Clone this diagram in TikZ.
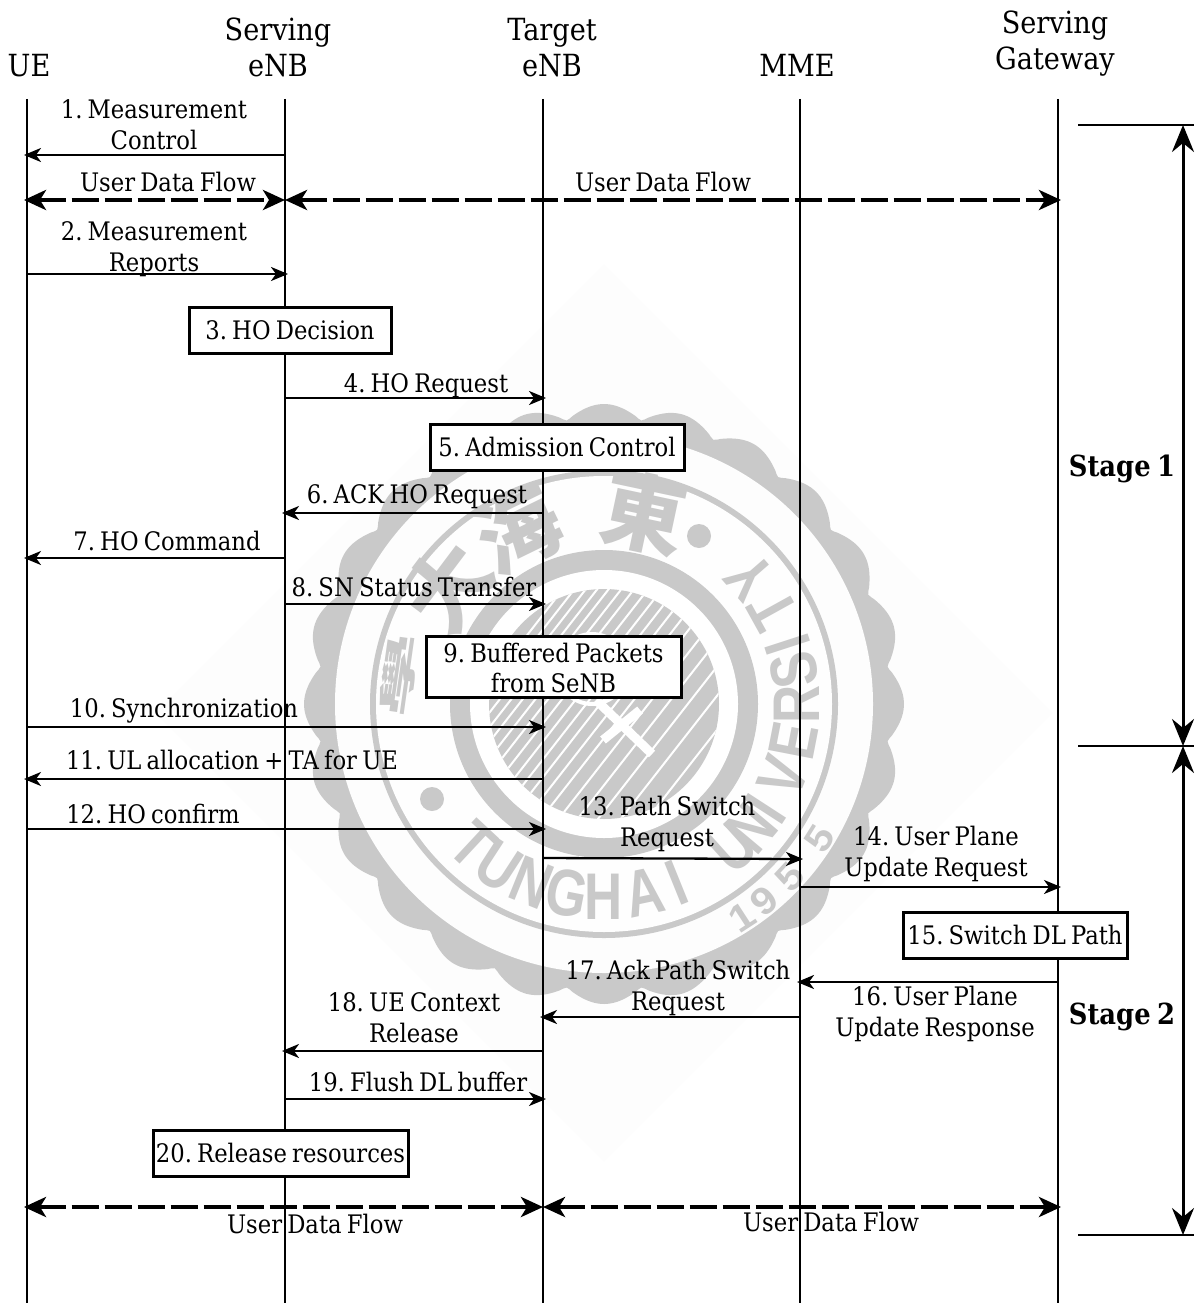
\documentclass[tikz,border=0pt]{standalone}
\usepackage{fontspec}
\usepackage{graphicx}
\setmainfont{DejaVu Serif}[FakeStretch=0.89,WordSpace=0.72]
\newfontfamily\wmfont{Liberation Sans}[FakeStretch=0.8]
\newfontfamily\wmnumfont{Liberation Sans}[FakeStretch=1.1]
\newfontfamily\cjkfont{Noto Sans CJK TC}
\usetikzlibrary{arrows.meta,calc}
\definecolor{wmgray}{gray}{0.79}
\newcommand\Q{\rule[-6pt]{0pt}{30pt}}
\newcommand\QH{\rule[-7pt]{0pt}{34pt}}
\newcommand\QS{\rule[-6.4pt]{0pt}{34.4pt}}
\newcommand\QB{\rule[-4pt]{0pt}{30pt}}
\tikzset{
  life/.style={line width=2.8pt,black},
  msg/.style={line width=2.3pt,-{Stealth[length=17pt,width=14pt,inset=5pt]},shorten >=-3pt},
  flow/.style={line width=4pt,dash pattern=on 27pt off 6pt,{Stealth[length=22pt,width=20pt,inset=6pt]}-{Stealth[length=22pt,width=20pt,inset=6pt]}},
  stagearrow/.style={line width=3pt,{Stealth[length=27pt,width=22pt,inset=9pt]}-{Stealth[length=27pt,width=22pt,inset=9pt]}},
  rule/.style={line width=2.2pt},
  lbl/.style={font=\frenchspacing\fontsize{25.5}{30.5}\selectfont,align=center,inner sep=0pt,text=black},
  head/.style={font=\frenchspacing\fontsize{30.5}{36}\selectfont,align=center,inner sep=0pt,text=black},
  actbox/.style={draw,line width=3pt,fill=white,font=\frenchspacing\fontsize{25.5}{30.5}\selectfont,align=center,inner sep=0pt,anchor=center},
  stagelbl/.style={font=\frenchspacing\fontsize{29}{34}\selectfont\bfseries,inner sep=0pt},
  wmlet/.style={font=\wmfont\bfseries\fontsize{66}{70}\selectfont,text=wmgray,inner sep=0pt},
  wmcjk/.style={font=\cjkfont\bfseries\fontsize{84}{86}\selectfont,text=wmgray,inner sep=0pt},
  wmnum/.style={font=\wmnumfont\bfseries\fontsize{38}{40}\selectfont,text=wmgray,inner sep=0pt},
}
\begin{document}
\begin{tikzpicture}[x=1pt,y=-1pt]
\useasboundingbox (0,0) rectangle (1196,1303);
% ---------- watermark ----------
\coordinate (seal) at (604,704);
\fill[gray!1.5] (604,264) -- (1053,713) -- (604,1162) -- (155,713) -- cycle;
\fill[wmgray,smooth,samples=289,domain=0:360,shift={(seal)}]
  plot ({(286+14*abs(cos(12*\x)))*cos(\x)},{(286+14*abs(cos(12*\x)))*sin(\x)}) -- cycle;
\fill[gray!1.5] (seal) circle[radius=269];
\fill[wmgray] (seal) circle[radius=234];
\fill[gray!1] (seal) circle[radius=228];
\fill[wmgray] (seal) circle[radius=154];
\fill[white] (seal) circle[radius=134];
\fill[wmgray] (seal) circle[radius=115];
\begin{scope}
  \clip (seal) circle[radius=115];
  \foreach \d in {-105,-84,-66,-50,-35,-21,-9,3,14,25,36,47,57,67,76,85,94,103}
    \draw[white,line width=2pt] ($(seal)+(52:170pt)+(142:\d pt)$) -- ($(seal)+(232:170pt)+(142:\d pt)$);
  \draw[white,line width=4pt] (592,669) circle[radius=35];
\end{scope}
\draw[white,line width=9pt,line cap=butt] (596,700) -- (652,754);
\draw[white,line width=9pt,line cap=butt] (603,740) -- (640,710);
\fill[wmgray] (699,536) circle[radius=12];
\fill[wmgray] (432,799) circle[radius=12];
\foreach \ch/\a [count=\i] in {T/-133,U/-123,N/-112,G/-101,H/-90,A/-78,I/-68,U/-48,N/-40,I/-33,V/-22,E/-11,R/0,S/10,I/18,T/29,Y/41}
  \node[wmlet,rotate=\a+90] (wml\i) at ($(seal)+(\a:193pt)$) {\ch};
\foreach \ch/\a [count=\i] in {東/78,海/116,大/143}
  \node[wmcjk,rotate=\a-90] (wmc\i) at ($(seal)+(\a:195pt)$) {\ch};
\node[wmcjk,rotate=82] (wmc4) at ($(seal)+(172:207pt)$) {\scalebox{1}[0.42]{學}};
\foreach \ch/\a [count=\i] in {1/-57,9/-51,5/-43,5/-32}
  \node[wmnum,rotate=\a+90] (wmn\i) at ($(seal)+(\a:254pt)$) {\ch};
% ---------- lifelines ----------
\coordinate (ue) at (27,99);       \coordinate (ueb) at (27,1303);
\coordinate (se) at (285,99);      \coordinate (seb) at (285,1303);
\coordinate (te) at (543,99);      \coordinate (teb) at (543,1303);
\coordinate (mm) at (800,99);      \coordinate (mmb) at (800,1303);
\coordinate (gw) at (1058,99);     \coordinate (gwb) at (1058,1303);
\draw[life] (ue) -- (ueb);
\draw[life] (se) -- (seb);
\draw[life] (te) -- (teb);
\draw[life] (mm) -- (mmb);
\draw[life] (gw) -- (gwb);
% ---------- headers ----------
\node[head] (hue) at (29,67) {\QH UE};
\node[head] (hse) at (278,49) {\QH Serving\\\QH eNB};
\node[head] (hte) at (552,49) {\QH Target\\\QH eNB};
\node[head] (hmm) at (797,67) {\QH MME};
\node[head] (hgw) at (1055,42) {\QH Serving\\\QH Gateway};
% ---------- messages ----------
\draw[msg] (se |- 0,155) -- (ue |- 0,155);
\draw[flow,shorten <=-3pt] (ue |- 0,200) -- (se |- 0,200);
\draw[flow,shorten >=-3pt] (se |- 0,200) -- (gw |- 0,200);
\draw[msg] (ue |- 0,274) -- (se |- 0,274);
\draw[msg] (se |- 0,398) -- (te |- 0,398);
\draw[msg] (te |- 0,513) -- (se |- 0,513);
\draw[msg] (se |- 0,558) -- (ue |- 0,558);
\draw[msg] (se |- 0,604) -- (te |- 0,604);
\draw[msg] (ue |- 0,727) -- (te |- 0,727);
\draw[msg] (te |- 0,779) -- (ue |- 0,779);
\draw[msg] (ue |- 0,829) -- (te |- 0,829);
\draw[msg] (te |- 0,858) -- (mm |- 0,859);
\draw[msg] (mm |- 0,887) -- (gw |- 0,887);
\draw[msg] (gw |- 0,982) -- (mm |- 0,982);
\draw[msg] (mm |- 0,1017) -- (te |- 0,1017);
\draw[msg] (te |- 0,1051) -- (se |- 0,1051);
\draw[msg] (se |- 0,1099) -- (te |- 0,1099);
\draw[flow,shorten <=-3pt] (ue |- 0,1207) -- (te |- 0,1207);
\draw[flow,shorten >=-3pt] (te |- 0,1207) -- (gw |- 0,1207);
% ---------- labels ----------
\node[lbl] (m1) at (154,125) {\Q 1. Measurement\\\Q Control};
\node[lbl] (f1) at (168,182) {\Q User Data Flow};
\node[lbl] (f2) at (663,182) {\Q User Data Flow};
\node[lbl] (m2) at (154,247) {\Q 2. Measurement\\\Q Reports};
\node[lbl] (m4) at (426,383) {\Q 4. HO Request};
\node[lbl] (m6) at (417,494) {\Q 6. ACK HO Request};
\node[lbl] (m7) at (167,541) {\Q 7. HO Command};
\node[lbl] (m8) at (414,587) {\Q 8. SN Status Transfer};
\node[lbl] (m10) at (184,708) {\Q 10. Synchronization};
\node[lbl] (m11) at (232,760) {\Q 11. UL allocation + TA for UE};
\node[lbl] (m12) at (153,814) {\Q 12. HO confirm};
\node[lbl] (m13) at (667,822) {\Q 13. Path Switch\\\Q Request};
\node[lbl] (m14) at (936,852) {\Q 14. User Plane\\\Q Update Request};
\node[lbl] (m16) at (935,1012) {\Q 16. User Plane\\\Q Update Response};
\node[lbl] (m17) at (678,986) {\Q 17. Ack Path Switch\\\Q Request};
\node[lbl] (m18) at (414,1018) {\Q 18. UE Context\\\Q Release};
\node[lbl] (m19) at (418,1082) {\Q 19. Flush DL buffer};
\node[lbl] (f3) at (315,1224) {\Q User Data Flow};
\node[lbl] (f4) at (831,1222) {\Q User Data Flow};
% ---------- boxes ----------
\node[actbox,minimum width=202pt,minimum height=46pt] (b3) at (290,330) {\Q 3. HO Decision};
\node[actbox,minimum width=254pt,minimum height=46pt] (b5) at (557,447) {\Q 5. Admission Control};
\node[actbox,minimum width=255pt,minimum height=61pt] (b9) at (553.5,666.5) {\QB 9. Buffered Packets\\\QB from SeNB};
\node[actbox,minimum width=224pt,minimum height=46pt] (b15) at (1015,935) {\Q 15. Switch DL Path};
\node[actbox,minimum width=255pt,minimum height=46pt] (b20) at (280.5,1153) {\Q 20. Release resources};
% ---------- stages ----------
\coordinate (s1l) at (1078,125); \coordinate (s1r) at (1194,125);
\coordinate (s2l) at (1078,746); \coordinate (s2r) at (1194,746);
\coordinate (s3l) at (1078,1235); \coordinate (s3r) at (1194,1235);
\draw[rule] (s1l) -- (s1r);
\draw[rule] (s2l) -- (s2r);
\draw[rule] (s3l) -- (s3r);
\draw[stagearrow] (1183,125) -- (1183,746);
\draw[stagearrow] (1183,746) -- (1183,1235);
\node[stagelbl] (st1) at (1122,466) {\QS Stage 1};
\node[stagelbl] (st2) at (1122,1014) {\QS Stage 2};
\end{tikzpicture}
\end{document}
